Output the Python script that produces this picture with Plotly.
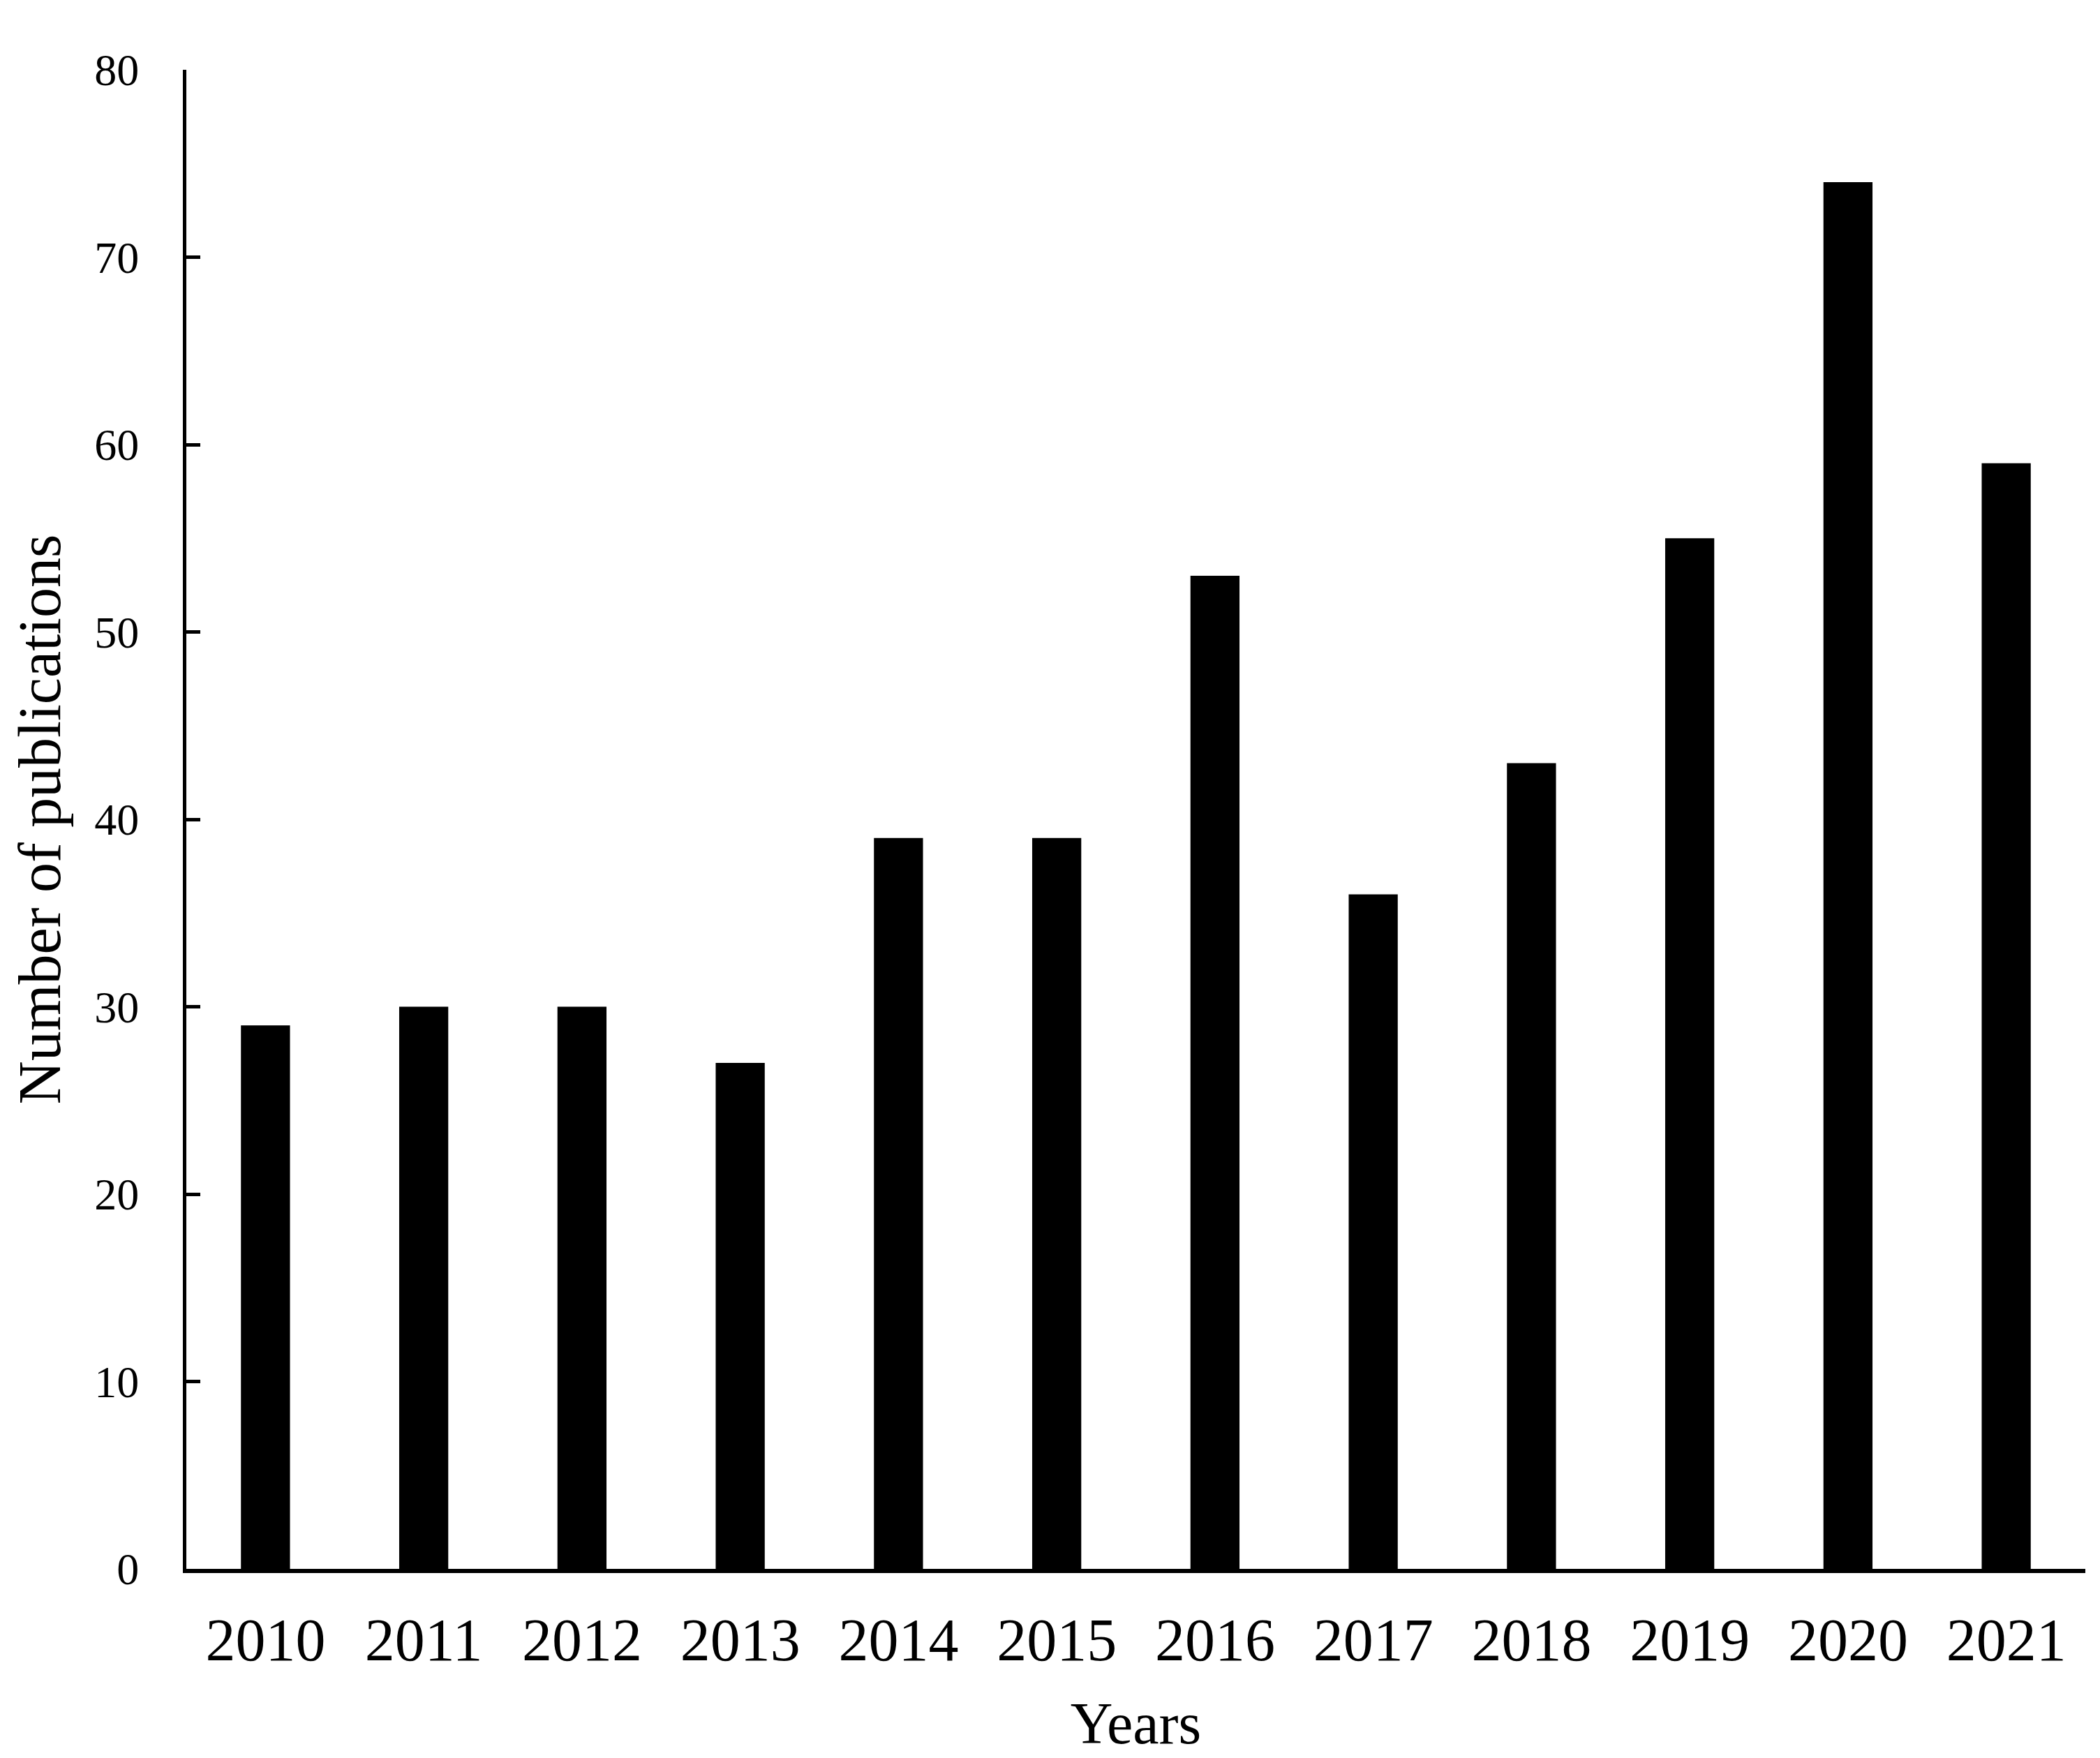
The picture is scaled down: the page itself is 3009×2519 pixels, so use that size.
import plotly.graph_objects as go

years = ['2010', '2011', '2012', '2013', '2014', '2015',
         '2016', '2017', '2018', '2019', '2020', '2021']
publications = [29, 30, 30, 27, 39, 39, 53, 36, 43, 55, 74, 59]
y_ticks = [0, 10, 20, 30, 40, 50, 60, 70, 80]

serif = 'Liberation Serif, Times New Roman, serif'

fig = go.Figure()
fig.add_trace(go.Bar(
    x=years,
    y=publications,
    width=0.31,
    marker=dict(color='black', line=dict(width=0)),
))

fig.update_layout(
    width=3009,
    height=2519,
    margin=dict(l=259, r=29, t=92, b=279),
    plot_bgcolor='white',
    paper_bgcolor='white',
    showlegend=False,
    font=dict(family=serif, color='black'),
)

fig.update_xaxes(
    type='category',
    range=[-0.5, 11.5],
    automargin=False,
    showline=True,
    linecolor='black',
    linewidth=6,
    ticks='',
    showgrid=False,
    zeroline=False,
    tickfont=dict(size=86, family=serif, color='black'),
    ticklabelstandoff=22,
    title=dict(text='Years', font=dict(size=84, family=serif, color='black'), standoff=44),
)

fig.update_yaxes(
    range=[0, 80],
    tickvals=y_ticks,
    automargin=False,
    showline=True,
    linecolor='black',
    linewidth=5,
    ticks='inside',
    ticklen=20,
    tickwidth=5,
    tickcolor='black',
    showgrid=False,
    zeroline=False,
    tickfont=dict(size=64, family=serif, color='black'),
    ticklabelstandoff=50,
    title=dict(text='Number of publications', font=dict(size=86, family=serif, color='black'), standoff=22),
)

fig.write_html("out.html")
